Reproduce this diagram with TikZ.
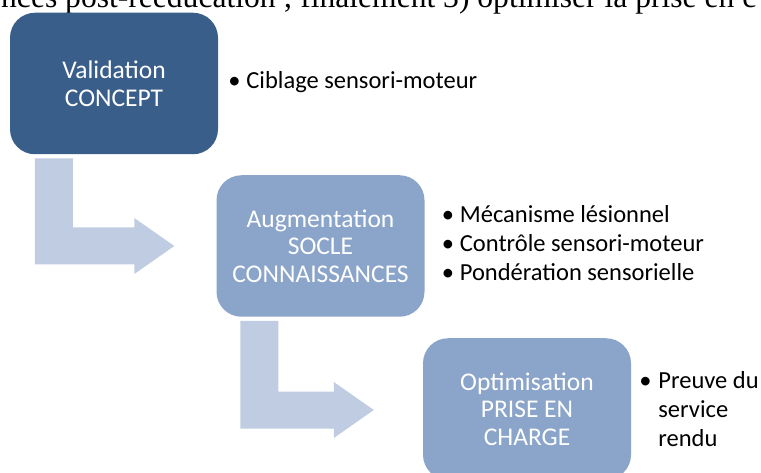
\documentclass[tikz,border=0pt]{standalone}
\usepackage{fontspec}
\setmainfont{Carlito}
\newfontfamily\pageserif{Liberation Serif}
\usetikzlibrary{calc}

\definecolor{darkblue}{HTML}{3A5E8A}
\definecolor{midblue}{HTML}{8AA4CA}
\definecolor{paleblue}{HTML}{C0CCE2}

\newcommand*{\boxfont}{\fontsize{25.5}{27.5}\selectfont}
\newcommand*{\listfont}{\fontsize{24.5}{29}\selectfont}
\newcommand*{\pt}[1]{\makebox[18pt][l]{•}#1}

% bent arrow: top of the arm, then tip of the head
\newcommand*{\bentarrow}[2]{%
	\fill[paleblue] let \p1=(#1), \p2=(#2) in
	  (\x1,\y1) -- (\x1+38pt,\y1) -- (\x1+38pt,\y2+18.5pt)
	  -- (\x2-40pt,\y2+18.5pt) -- (\x2-40pt,\y2+28pt) -- (\x2,\y2)
	  -- (\x2-40pt,\y2-28pt) -- (\x2-40pt,\y2-18.5pt) -- (\x1,\y2-18.5pt)
	  -- cycle;
}

\begin{document}
\begin{tikzpicture}
[
	x=1pt,
	y=-1pt,
	stepbox/.style={rectangle,rounded corners=25pt,minimum width=208pt,minimum height=141.5pt,inner sep=0pt,align=center,text=white,font=\boxfont},
	itemlist/.style={anchor=west,inner sep=0pt,align=left,font=\listfont}
]

	\useasboundingbox (0,0) rectangle (761,473);

	% line of the page above
	\node[anchor=base west,inner sep=0pt] (pageline) at (1,8)
	  {\resizebox{755pt}{!}{\pageserif\fontsize{30}{34}\selectfont nces post-rééducation ; finalement 3) optimiser la prise en c}};

	% steps
	\node[stepbox,fill=darkblue] (valid) at (114,83.5) {Validation\\CONCEPT};
	\node[stepbox,fill=midblue] (augm) at (320.5,246) {Augmentation\\SOCLE\\CONNAISSANCES};
	\node[stepbox,fill=midblue] (optim) at (527,409) {Optimisation\\PRISE EN\\CHARGE};

	% lists
	\node[itemlist] (validlist) at ($(valid.east)+(10,-1)$) {\pt{Ciblage sensori-moteur}};
	\node[itemlist] (augmlist) at ($(augm.east)+(17,-3)$)
	  {\pt{Mécanisme lésionnel}\\\pt{Contrôle sensori-moteur}\\\pt{Pondération sensorielle}};
	\node[itemlist] (optimlist) at ($(optim.east)+(8,0)$)
	  {\makebox[19pt][l]{•}Preuve du\\\hspace*{19pt}service\\\hspace*{19pt}rendu};

	% arrows
	\coordinate (arrowAtop) at ($(valid.south west)+(25,4)$);
	\coordinate (arrowAtip) at ($(augm.west)+(-42,0)$);
	\coordinate (arrowBtop) at ($(augm.south west)+(24,4)$);
	\coordinate (arrowBtip) at ($(optim.west)+(-49,1)$);
	\bentarrow{arrowAtop}{arrowAtip}
	\bentarrow{arrowBtop}{arrowBtip}

\end{tikzpicture}
\end{document}
